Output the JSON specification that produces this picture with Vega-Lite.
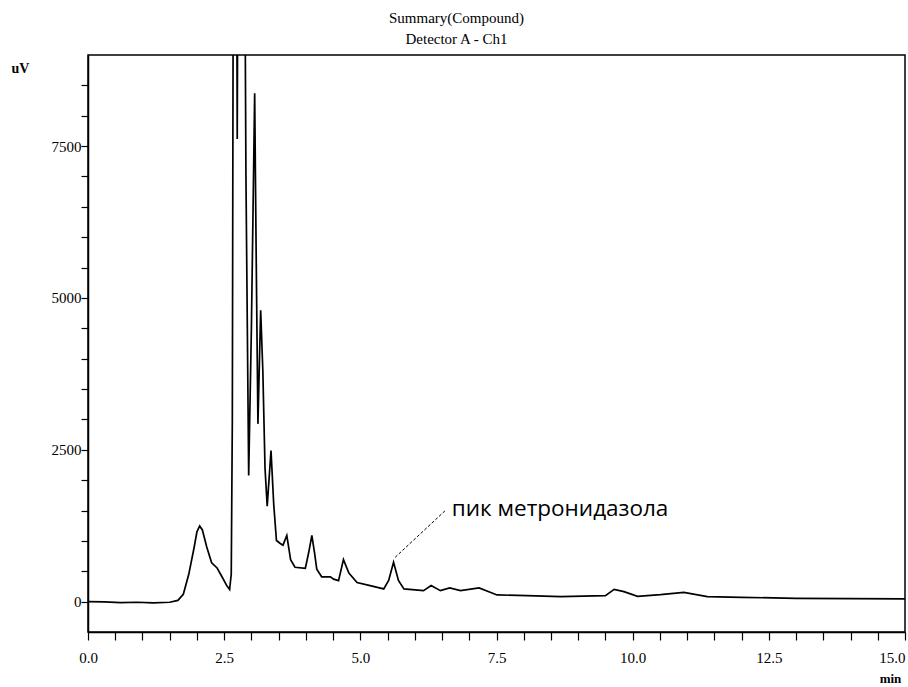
{
  "$schema": "https://vega.github.io/schema/vega-lite/v6.json",
  "autosize": {"type": "none"},
  "padding": {"left": 88, "top": 55, "right": 3, "bottom": 55},
  "width": 817,
  "height": 577,
  "background": "white",
  "config": {
    "view": {"stroke": "black", "strokeWidth": 1.5},
    "font": "Times New Roman, Liberation Serif, serif",
    "axis": {"labelOverlap": false}
  },
  "title": {
    "text": ["Summary(Compound)", "Detector A - Ch1"],
    "font": "Times New Roman, Liberation Serif, serif",
    "fontSize": 15,
    "fontWeight": "normal",
    "color": "black",
    "anchor": "middle",
    "dx": -40,
    "offset": 8,
    "lineHeight": 21
  },
  "datasets": {
    "trace": [
      {"t": 0.0, "v": 0}, {"t": 0.3, "v": -5}, {"t": 0.6, "v": -15}, {"t": 0.9, "v": -10},
      {"t": 1.2, "v": -20}, {"t": 1.5, "v": -10}, {"t": 1.65, "v": 20}, {"t": 1.75, "v": 120},
      {"t": 1.85, "v": 450}, {"t": 1.95, "v": 900}, {"t": 2.0, "v": 1150}, {"t": 2.05, "v": 1246},
      {"t": 2.1, "v": 1180}, {"t": 2.18, "v": 900}, {"t": 2.27, "v": 640}, {"t": 2.37, "v": 554},
      {"t": 2.46, "v": 410}, {"t": 2.55, "v": 260}, {"t": 2.6, "v": 200}, {"t": 2.63, "v": 450},
      {"t": 2.65, "v": 3000}, {"t": 2.67, "v": 12000}, {"t": 2.71, "v": 16000}, {"t": 2.74, "v": 7616},
      {"t": 2.77, "v": 16000}, {"t": 2.86, "v": 14000}, {"t": 2.9, "v": 7000}, {"t": 2.95, "v": 2077},
      {"t": 3.0, "v": 4500}, {"t": 3.06, "v": 8371}, {"t": 3.09, "v": 5500}, {"t": 3.12, "v": 2927},
      {"t": 3.17, "v": 4796}, {"t": 3.21, "v": 3800}, {"t": 3.25, "v": 2200}, {"t": 3.29, "v": 1573},
      {"t": 3.36, "v": 2486}, {"t": 3.41, "v": 1600}, {"t": 3.46, "v": 1007}, {"t": 3.53, "v": 957},
      {"t": 3.58, "v": 930}, {"t": 3.65, "v": 1089}, {"t": 3.72, "v": 692}, {"t": 3.8, "v": 566},
      {"t": 3.99, "v": 548}, {"t": 4.05, "v": 800}, {"t": 4.11, "v": 1089}, {"t": 4.16, "v": 800},
      {"t": 4.2, "v": 535}, {"t": 4.29, "v": 409}, {"t": 4.45, "v": 409}, {"t": 4.51, "v": 370},
      {"t": 4.6, "v": 346}, {"t": 4.69, "v": 692}, {"t": 4.79, "v": 472}, {"t": 4.94, "v": 315},
      {"t": 5.18, "v": 264}, {"t": 5.43, "v": 209}, {"t": 5.52, "v": 350}, {"t": 5.61, "v": 648},
      {"t": 5.7, "v": 350}, {"t": 5.8, "v": 209}, {"t": 6.16, "v": 181}, {"t": 6.3, "v": 264},
      {"t": 6.47, "v": 181}, {"t": 6.64, "v": 225}, {"t": 6.84, "v": 181}, {"t": 7.18, "v": 225},
      {"t": 7.51, "v": 110}, {"t": 8.06, "v": 99}, {"t": 8.68, "v": 82}, {"t": 9.5, "v": 99},
      {"t": 9.66, "v": 203}, {"t": 9.84, "v": 165}, {"t": 10.09, "v": 88}, {"t": 10.51, "v": 115},
      {"t": 10.94, "v": 153}, {"t": 11.37, "v": 82}, {"t": 12.0, "v": 70}, {"t": 13.0, "v": 55},
      {"t": 14.0, "v": 50}, {"t": 15.0, "v": 45}
    ],
    "note": [
      {"t": 5.64, "v": 730, "t2": 6.56, "v2": 1500, "label": "пик метронидазола", "lt": 6.68, "lv": 1530}
    ]
  },
  "layer": [
    {
      "data": {"name": "trace"},
      "mark": {"type": "line", "color": "black", "strokeWidth": 1.7, "clip": true, "interpolate": "linear"},
      "encoding": {
        "x": {
          "field": "t", "type": "quantitative",
          "scale": {"domain": [0, 15], "nice": false, "zero": false},
          "axis": {
            "values": [0,0.5,1,1.5,2,2.5,3,3.5,4,4.5,5,5.5,6,6.5,7,7.5,8,8.5,9,9.5,10,10.5,11,11.5,12,12.5,13,13.5,14,14.5,15],
            "tickCount": 200,
            "labelExpr": "datum.value % 2.5 == 0 ? format(datum.value, '.1f') : ''",
            "labelAlign": {"expr": "datum.value == 15 ? 'right' : 'center'"},
            "grid": false,
            "domainColor": "black", "domainWidth": 1.5,
            "tickColor": "black", "tickSize": 8, "tickWidth": 1.2,
            "labelFont": "Times New Roman, Liberation Serif, serif", "labelFontSize": 15, "labelColor": "black",
            "labelPadding": 10, "labelFlush": false, "labelOverlap": false,
            "title": "min",
            "titleFont": "Times New Roman, Liberation Serif, serif", "titleFontSize": 13, "titleFontWeight": "bold", "titleColor": "black",
            "titleX": 802, "titleY": 46, "titleAlign": "center", "titleBaseline": "middle"
          }
        },
        "y": {
          "field": "v", "type": "quantitative",
          "scale": {"domain": [-500, 9000], "nice": false, "zero": false},
          "axis": {
            "values": [0,500,1000,1500,2000,2500,3000,3500,4000,4500,5000,5500,6000,6500,7000,7500,8000,8500],
            "tickCount": 200,
            "labelExpr": "datum.value % 2500 == 0 ? format(datum.value, 'd') : ''",
            "grid": false,
            "domainColor": "black", "domainWidth": 1.5,
            "tickColor": "black", "tickSize": 7, "tickWidth": 1.2,
            "labelFont": "Times New Roman, Liberation Serif, serif", "labelFontSize": 15, "labelColor": "black",
            "labelPadding": 0, "labelOverlap": false,
            "title": "uV",
            "titleFont": "Times New Roman, Liberation Serif, serif", "titleFontSize": 14, "titleFontWeight": "bold", "titleColor": "black",
            "titleAngle": 0, "titleX": -68, "titleY": 13, "titleAlign": "center", "titleBaseline": "middle"
          }
        }
      }
    },
    {
      "data": {"name": "note"},
      "mark": {"type": "rule", "color": "black", "strokeWidth": 1, "strokeDash": [3, 2]},
      "encoding": {
        "x": {"field": "t", "type": "quantitative"},
        "y": {"field": "v", "type": "quantitative"},
        "x2": {"field": "t2"},
        "y2": {"field": "v2"}
      }
    },
    {
      "data": {"name": "note"},
      "mark": {"type": "text", "font": "Open Sans", "fontSize": 22.5, "color": "black", "align": "left", "baseline": "middle"},
      "encoding": {
        "x": {"field": "lt", "type": "quantitative"},
        "y": {"field": "lv", "type": "quantitative"},
        "text": {"field": "label"}
      }
    }
  ]
}
